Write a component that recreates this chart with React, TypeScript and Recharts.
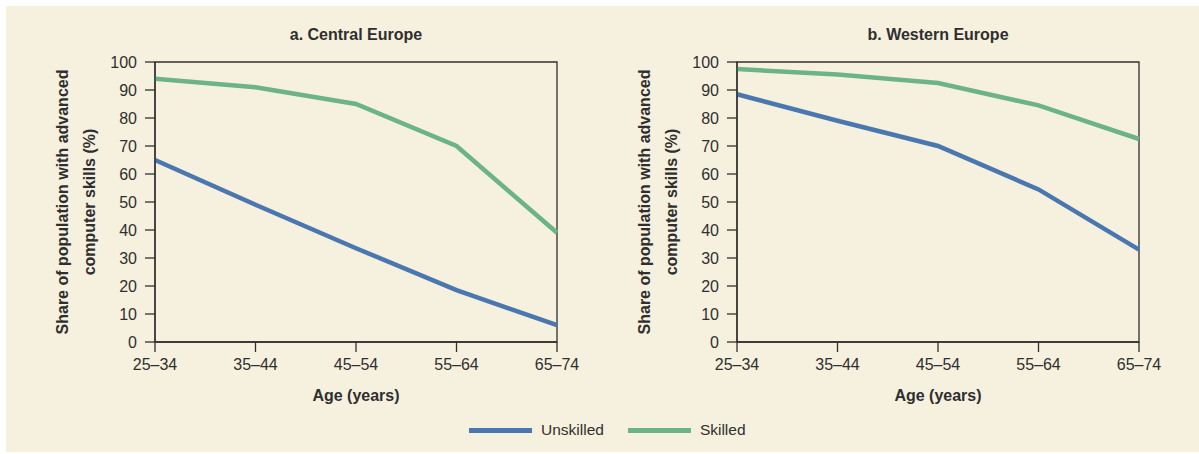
import React from "react";
import { LineChart, Line, XAxis, YAxis, ReferenceArea } from "recharts";

const ageGroups = ["25–34", "35–44", "45–54", "55–64", "65–74"];
const centralUnskilled = [65, 49, 33.5, 18.5, 6];
const centralSkilled = [94, 91, 85, 70, 39];
const westernUnskilled = [88.5, 79, 70, 54.5, 33];
const westernSkilled = [97.5, 95.5, 92.5, 84.5, 72.5];
const yTicks = [0, 10, 20, 30, 40, 50, 60, 70, 80, 90, 100];

const BLUE = "#4a77b0";
const GREEN = "#6cb488";
const INK = "#2f2f2f";
const BOLD_FONT = "'Liberation Sans', Arial, sans-serif";
const TICK_FONT = "'Liberation Sans', Arial, sans-serif";

const SERIES = [
  { key: "unskilled", name: "Unskilled", color: BLUE },
  { key: "skilled", name: "Skilled", color: GREEN },
];

function toRows(unskilled: number[], skilled: number[]) {
  return ageGroups.map((age, i) => ({ age, unskilled: unskilled[i], skilled: skilled[i] }));
}

const YLabel = (props: any) => {
  const { x, y, width, height } = props.viewBox;
  const px = x + width;
  const cy = y + height / 2;
  const lines = [
    { text: "Share of population with advanced", dx: -93 },
    { text: "computer skills (%)", dx: -66 },
  ];
  return (
    <g>
      {lines.map((l) => (
        <text
          key={l.text}
          x={px + l.dx}
          y={cy}
          transform={`rotate(-90 ${px + l.dx} ${cy})`}
          textAnchor="middle"
          dominantBaseline="central"
          fill={INK}
          fontFamily={BOLD_FONT}
          fontWeight="bold"
          fontSize={16}
        >
          {l.text}
        </text>
      ))}
    </g>
  );
};

const XLabel = (props: any) => {
  const { x, y, width } = props.viewBox;
  return (
    <text
      x={x + width / 2}
      y={y + 59}
      textAnchor="middle"
      fill={INK}
      fontFamily={BOLD_FONT}
      fontWeight="bold"
      fontSize={16}
    >
      Age (years)
    </text>
  );
};

function Panel({
  title,
  unskilled,
  skilled,
  width,
  left,
  right,
}: {
  title: string;
  unskilled: number[];
  skilled: number[];
  width: number;
  left: number;
  right: number;
}) {
  const data = toRows(unskilled, skilled);
  return (
    <LineChart
      width={width}
      height={454}
      data={data}
      margin={{ top: 62, right, left, bottom: 42 }}
    >
      <ReferenceArea
        x1={ageGroups[0]}
        x2={ageGroups[ageGroups.length - 1]}
        y1={0}
        y2={100}
        fill="none"
        stroke={INK}
        strokeWidth={1.3}
        label={{
          value: title,
          position: "top",
          offset: 22,
          fill: INK,
          fontFamily: BOLD_FONT,
          fontWeight: "bold",
          fontSize: 16,
        }}
      />
      <XAxis
        dataKey="age"
        height={70}
        tickSize={10}
        tickMargin={7}
        stroke={INK}
        strokeWidth={1.3}
        tick={{ fill: INK, fontSize: 16, fontFamily: TICK_FONT }}
        interval={0}
        label={<XLabel />}
      />
      <YAxis
        domain={[0, 100]}
        ticks={yTicks}
        width={60}
        tickSize={10}
        tickMargin={8}
        stroke={INK}
        strokeWidth={1.3}
        tick={{ fill: INK, fontSize: 16, fontFamily: TICK_FONT }}
        interval={0}
        label={<YLabel />}
      />
      {SERIES.map((s) => (
        <Line
          key={s.key}
          type="linear"
          dataKey={s.key}
          name={s.name}
          stroke={s.color}
          strokeWidth={4.5}
          dot={false}
          activeDot={false}
          isAnimationActive={false}
        />
      ))}
    </LineChart>
  );
}

export default function App() {
  return (
    <div style={{ position: "relative", width: 1199, height: 454, background: "#ffffff" }}>
      <style>{"body{margin:0}"}</style>
      <div
        style={{
          position: "absolute",
          left: 6,
          top: 6,
          right: 0,
          bottom: 2,
          background: "#f6f1de",
        }}
      />
      <div style={{ position: "absolute", left: 0, top: 0 }}>
        <Panel
          title="a. Central Europe"
          unskilled={centralUnskilled}
          skilled={centralSkilled}
          width={600}
          left={95}
          right={43}
        />
      </div>
      <div style={{ position: "absolute", left: 600, top: 0 }}>
        <Panel
          title="b. Western Europe"
          unskilled={westernUnskilled}
          skilled={westernSkilled}
          width={599}
          left={77}
          right={60}
        />
      </div>
      <div
        style={{
          position: "absolute",
          left: 469,
          top: 419,
          display: "flex",
          alignItems: "center",
          fontFamily: TICK_FONT,
          fontSize: 15.5,
          color: INK,
          lineHeight: "22px",
        }}
      >
        {SERIES.map((s, i) => (
          <div
            key={s.key}
            style={{ display: "flex", alignItems: "center", marginLeft: i === 0 ? 0 : 24 }}
          >
            <span style={{ display: "inline-block", width: 63, height: 5, background: s.color }} />
            <span style={{ marginLeft: 9 }}>{s.name}</span>
          </div>
        ))}
      </div>
    </div>
  );
}
